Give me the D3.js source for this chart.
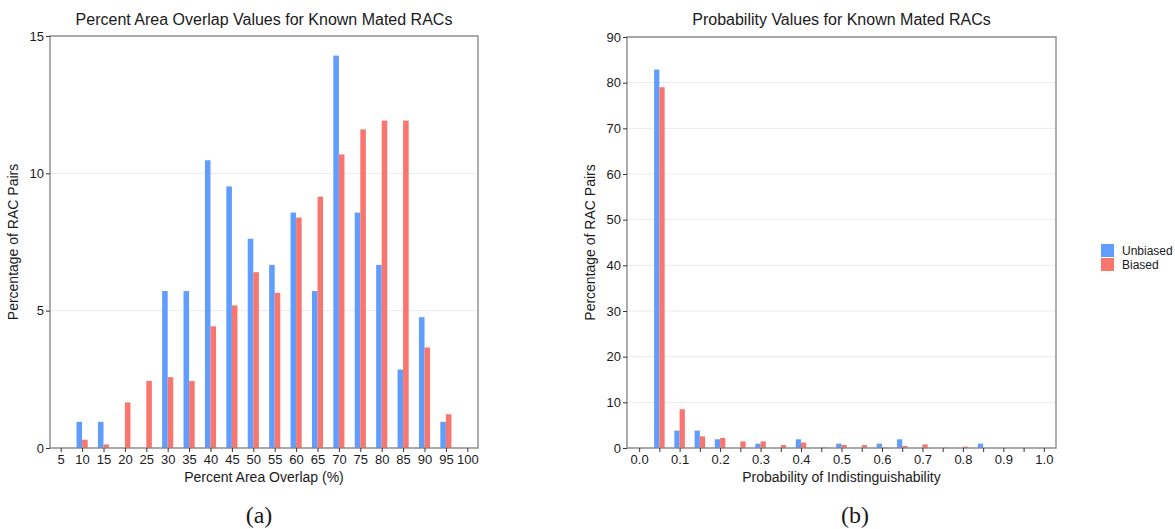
<!DOCTYPE html>
<html>
<head>
<meta charset="utf-8">
<script src="https://cdn.jsdelivr.net/npm/d3@7"></script>
<style>
  body { margin: 0; background: #fff; }
  text { font-family: "Liberation Sans", Arial, sans-serif; fill: #1a1a1a; }
</style>
</head>
<body>
<div id="chart"></div>
<script>
// Panel (a): percent area overlap bins
const overlapBins = [5, 10, 15, 20, 25, 30, 35, 40, 45, 50, 55, 60, 65, 70, 75, 80, 85, 90, 95, 100];
const overlapUnbiased = [0, 0.952, 0.952, 0, 0, 5.714, 5.714, 10.476, 9.524, 7.619, 6.667, 8.571, 5.714, 14.286, 8.571, 6.667, 2.857, 4.762, 0.952, 0];
const overlapBiased = [0, 0.30, 0.13, 1.66, 2.44, 2.58, 2.44, 4.43, 5.19, 6.40, 5.65, 8.39, 9.15, 10.69, 11.60, 11.92, 11.92, 3.66, 1.23, 0];
const overlapYTicks = [0, 5, 10, 15];

// Panel (b): probability of indistinguishability bins
const probBins = ["0.0", "0.05", "0.1", "0.15", "0.2", "0.25", "0.3", "0.35", "0.4", "0.45", "0.5",
                  "0.55", "0.6", "0.65", "0.7", "0.75", "0.8", "0.85", "0.9", "0.95", "1.0"];
const probUnbiased = [0, 82.86, 3.81, 3.81, 1.905, 0, 0.952, 0, 1.905, 0, 0.952, 0, 0.952, 1.905, 0, 0, 0, 0.952, 0, 0, 0];
const probBiased = [0, 79.0, 8.5, 2.55, 2.2, 1.45, 1.45, 0.65, 1.2, 0.15, 0.65, 0.65, 0.1, 0.45, 0.8, 0.1, 0.3, 0, 0, 0, 0];
const probYTicks = [0, 10, 20, 30, 40, 50, 60, 70, 80, 90];
const probLabels = ["0.0", "0.1", "0.2", "0.3", "0.4", "0.5", "0.6", "0.7", "0.8", "0.9", "1.0"];

const seriesNames = ["Unbiased", "Biased"];
const colors = ["#619CFF", "#F8766D"];

const svg = d3.select("#chart")
    .append("svg")
    .attr("width", 1175)
    .attr("height", 529);

function drawPanel(opts) {
    const { left, right, top, bottom, bins, a, b, yMax, yTicks, labels, padding, title, xTitle } = opts;

    const x = d3.scalePoint()
        .domain(bins)
        .range([left, right])
        .padding(padding);

    const y = d3.scaleLinear()
        .domain([0, yMax])
        .range([bottom, top]);

    const g = svg.append("g");

    // Gridlines
    g.selectAll(".grid")
        .data(yTicks)
        .enter().append("line")
        .attr("x1", left).attr("x2", right)
        .attr("y1", d => y(d)).attr("y2", d => y(d))
        .attr("stroke", "#ebebeb")
        .attr("stroke-width", 1);

    // Bars
    const w = x.step() * 0.26;
    [a, b].forEach((vals, si) => {
        g.selectAll(".bar" + si)
            .data(bins.map((k, i) => ({ k, v: vals[i] })).filter(d => d.v > 0))
            .enter().append("rect")
            .attr("x", d => x(d.k) - (si === 0 ? w : 0))
            .attr("width", w)
            .attr("y", d => y(d.v))
            .attr("height", d => y(0) - y(d.v))
            .attr("fill", colors[si]);
    });

    // Panel border
    g.append("rect")
        .attr("x", left).attr("y", top)
        .attr("width", right - left).attr("height", bottom - top)
        .attr("fill", "none")
        .attr("stroke", "#8a8a8a")
        .attr("stroke-width", 1.4);

    // Y axis
    const yAxis = g.append("g")
        .attr("transform", `translate(${left},0)`)
        .call(d3.axisLeft(y).tickValues(yTicks).tickSize(4).tickPadding(2));
    yAxis.select(".domain").remove();
    yAxis.selectAll(".tick line").attr("stroke", "#333");
    yAxis.selectAll("text").style("font-size", "13px").attr("fill", "#1a1a1a");

    // X axis
    const xAxis = g.append("g")
        .attr("transform", `translate(0,${bottom})`)
        .call(d3.axisBottom(x).tickSize(4).tickPadding(3)
            .tickFormat(d => labels.includes(d) ? d : ""));
    xAxis.select(".domain").remove();
    xAxis.selectAll(".tick line").attr("stroke", "#333");
    xAxis.selectAll("text").style("font-size", "13px").attr("fill", "#1a1a1a");

    // Titles
    g.append("text")
        .attr("x", (left + right) / 2)
        .attr("y", 25)
        .attr("text-anchor", "middle")
        .style("font-size", "16px")
        .text(title);

    g.append("text")
        .attr("x", (left + right) / 2)
        .attr("y", 482)
        .attr("text-anchor", "middle")
        .style("font-size", "14px")
        .text(xTitle);

    g.append("text")
        .attr("transform", `translate(${left - 32},${(top + bottom) / 2}) rotate(-90)`)
        .attr("text-anchor", "middle")
        .style("font-size", "14px")
        .text("Percentage of RAC Pairs");
}

drawPanel({
    left: 50, right: 478, top: 36, bottom: 448,
    bins: overlapBins, a: overlapUnbiased, b: overlapBiased,
    yMax: 15, yTicks: overlapYTicks, labels: overlapBins, padding: 0.5,
    title: "Percent Area Overlap Values for Known Mated RACs",
    xTitle: "Percent Area Overlap (%)"
});

drawPanel({
    left: 627, right: 1056, top: 37, bottom: 448,
    bins: probBins, a: probUnbiased, b: probBiased,
    yMax: 90, yTicks: probYTicks, labels: probLabels, padding: 0.6,
    title: "Probability Values for Known Mated RACs",
    xTitle: "Probability of Indistinguishability"
});

// Legend
const legend = svg.append("g").attr("transform", "translate(1101,244)");
seriesNames.forEach((name, i) => {
    legend.append("rect")
        .attr("x", 0).attr("y", i * 14)
        .attr("width", 13).attr("height", 13)
        .attr("fill", colors[i]);
    legend.append("text")
        .attr("x", 21).attr("y", i * 14 + 11)
        .style("font-size", "12px")
        .text(name);
});

// Captions
[["(a)", 259], ["(b)", 855]].forEach(([t, cx]) => {
    svg.append("text")
        .attr("x", cx).attr("y", 523)
        .attr("text-anchor", "middle")
        .style("font-family", "'Liberation Serif', 'DejaVu Serif', serif")
        .style("font-size", "24px")
        .text(t);
});
</script>
</body>
</html>
